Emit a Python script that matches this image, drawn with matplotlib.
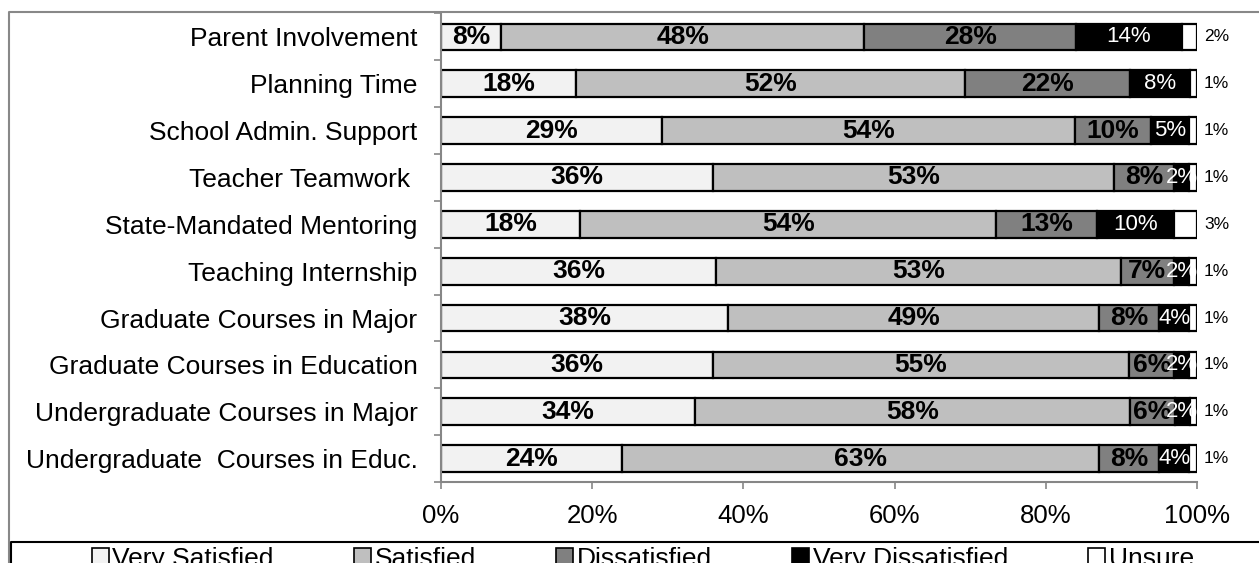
import numpy as np
import matplotlib
matplotlib.use("Agg")
import matplotlib.pyplot as plt
from matplotlib.patches import Patch
from matplotlib.lines import Line2D

plt.rcParams["font.family"] = ["Liberation Sans", "DejaVu Sans"]

categories = ["Parent Involvement", "Planning Time", "School Admin. Support",
              "Teacher Teamwork ", "State-Mandated Mentoring", "Teaching Internship",
              "Graduate Courses in Major", "Graduate Courses in Education",
              "Undergraduate Courses in Major", "Undergraduate  Courses in Educ."]
series = ["Very Satisfied", "Satisfied", "Dissatisfied", "Very Dissatisfied", "Unsure"]
very_satisfied = [8, 18, 29, 36, 18, 36, 38, 36, 34, 24]
satisfied = [48, 52, 54, 53, 54, 53, 49, 55, 58, 63]
dissatisfied = [28, 22, 10, 8, 13, 7, 8, 6, 6, 8]
very_dissatisfied = [14, 8, 5, 2, 10, 2, 4, 2, 2, 4]
unsure = [2, 1, 1, 1, 3, 1, 1, 1, 1, 1]
colors = ["#f2f2f2", "#bfbfbf", "#808080", "#000000", "#ffffff"]
xticks = [0, 20, 40, 60, 80, 100]

vals = np.array([very_satisfied, satisfied, dissatisfied, very_dissatisfied, unsure], float)
shares = vals / vals.sum(axis=0) * 100  # 100% stacked

fig = plt.figure(figsize=(12.59, 5.63), dpi=100)
ax = fig.add_axes([441 / 1259, 81 / 563, 756 / 1259, 468.5 / 563])

y = np.arange(len(categories))
left = np.zeros(len(categories))
for i, name in enumerate(series):
    ax.barh(y, shares[i], left=left, height=0.57, color=colors[i],
            edgecolor="black", linewidth=1.6, label=name)
    for j in range(len(categories)):
        lab = f"{int(vals[i, j])}%"
        cx = left[j] + shares[i, j] / 2
        if i == 3:
            ax.text(cx, y[j], lab, ha="center", va="center", color="white", fontsize=16)
        elif i == 4:
            # unsure labels sit just outside the bar end
            ax.text(102.6, y[j], lab, ha="center", va="center", color="black",
                    fontsize=12.5, clip_on=False)
        else:
            ax.text(cx, y[j], lab, ha="center", va="center", color="black",
                    fontsize=19, fontweight="bold")
    left += shares[i]

ax.set_xlim(0, 100)
ax.set_ylim(len(categories) - 0.5, -0.5)
ax.set_xticks(xticks)
ax.set_xticklabels([f"{t}%" for t in xticks], fontsize=18.5)
ax.set_yticks(np.arange(len(categories) + 1) - 0.5)
ax.set_yticklabels([])
ax.set_yticks(y, minor=True)
ax.set_yticklabels(categories, minor=True, fontsize=19)
ax.tick_params(axis="y", which="major", direction="out", length=5, color="#868686", width=1.2)
ax.tick_params(axis="y", which="minor", length=0, pad=17)
ax.tick_params(axis="x", direction="out", length=5, color="#868686", width=1.2, pad=11)
for s in ["top", "right"]:
    ax.spines[s].set_visible(False)
for s in ["left", "bottom"]:
    ax.spines[s].set_color("#868686")
    ax.spines[s].set_linewidth(1.5)

# chart border and legend box
fig.add_artist(Line2D([9 / 1259, 9 / 1259, 1], [0, 1 - 12 / 563, 1 - 12 / 563],
                      transform=fig.transFigure, color="#888888", lw=1.5))
fig.add_artist(Line2D([11 / 1259, 11 / 1259, 1], [0, 21 / 563, 21 / 563],
                      transform=fig.transFigure, color="black", lw=1.5))

handles = [Patch(facecolor=c, edgecolor="black", linewidth=1.2) for c in colors]
fig.legend(handles, series, loc="center", bbox_to_anchor=(643 / 1259, 4 / 563), ncol=5,
           frameon=False, fontsize=19, handlelength=0.62, handleheight=0.62,
           handletextpad=0.15, columnspacing=3.05, borderpad=0)

fig.savefig("out.png", dpi=100)
